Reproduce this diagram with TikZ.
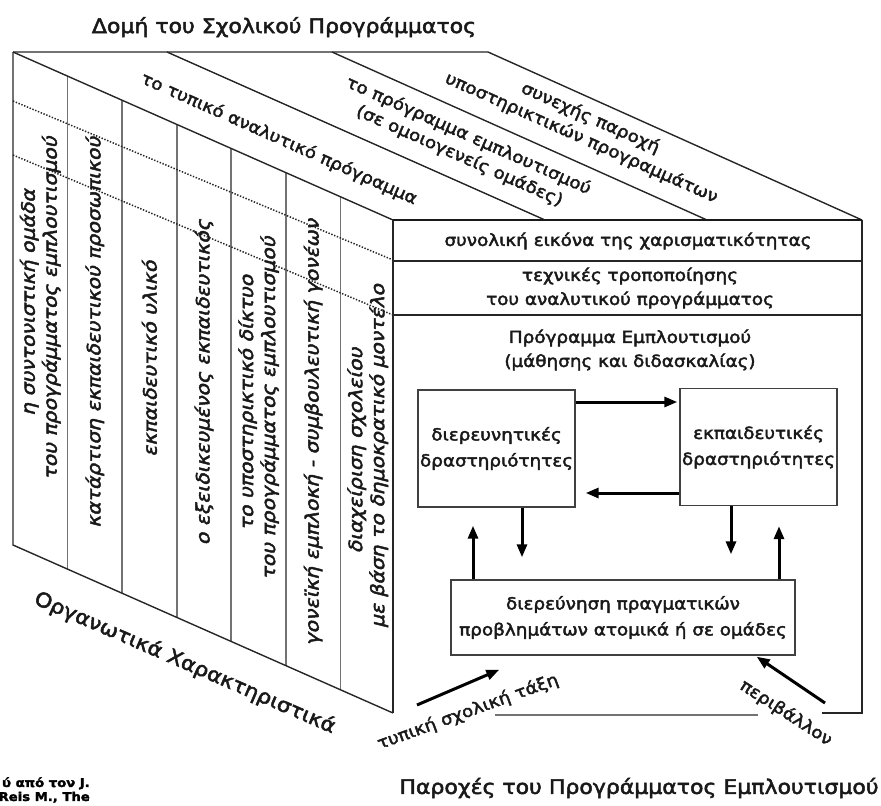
\documentclass[tikz,border=0pt]{standalone}
\usepackage{fontspec}
\setmainfont{DejaVu Sans}[FakeStretch=1.1, FakeBold=2.5]
\usetikzlibrary{arrows.meta,calc}
\begin{document}
\begin{tikzpicture}[x=1pt,y=-1pt,
  edge/.style={line width=1.4pt, draw=black!85},
  divider/.style={line width=1.6pt, draw=black!55},
  dots/.style={line width=1.5pt, dash pattern=on 1.4pt off 1.6pt, draw=black!85},
  lbl/.style={font=\fontsize{16.7}{24}\selectfont, align=center, inner sep=0pt, text=black!90},
  boxlbl/.style={font=\fontsize{16.7}{26}\selectfont, align=center, inner sep=0pt, text=black!90},
  col/.style={font=\fontsize{18.5}{22}\selectfont, align=center, inner sep=0pt, transform shape, rotate=90, xslant=0.25, text=black!90},
  toplbl/.style={font=\fontsize{16.7}{22}\selectfont, align=center, inner sep=0pt, rotate=-24, text=black!90},
  ttl/.style={font=\fontsize{20}{24}\selectfont, inner sep=0pt, text=black!90},
  box/.style={draw=black!75, line width=1.4pt, fill=white},
  arr/.style={line width=3pt, draw=black, -{Triangle[length=13pt,width=10pt]}},
]
\useasboundingbox (0,0) rectangle (881,806);

% corners of the box
\coordinate (BTL) at (13,52);
\coordinate (BTR) at (488,52);
\coordinate (FTL) at (393,220);
\coordinate (FTR) at (862,220);
\coordinate (FBR) at (862,713);
\coordinate (FBL) at (393,713);
\coordinate (BBL) at (13,545);

% left face dividers
\foreach \i in {1,...,6} {
  \pgfmathsetmacro\xx{13+54.571*\i}
  \draw[divider] (\xx,{52+0.4421*(\xx-13)}) -- (\xx,{545+0.4421*(\xx-13)});
}
% dotted lines
\draw[dots] (13,101) -- (393,260);
\draw[dots] (13,155) -- (393,315);

% outline
\draw[edge] (BTL) -- (BTR) -- (FTR);
\draw[edge] (BTL) -- (FTL);
\draw[edge] (BTL) -- (BBL) -- (FBL);
\draw[edge] (FTL) -- (FBL);
\draw[edge] (FTR) -- (FBR) -- (822,713);
\draw[divider] (495,715) -- (758,715);
\draw[edge] (167,52) -- (545,220);
\draw[edge] (332,52) -- (707,220);
\draw[line width=2.4pt, draw=black!90] (FTL) -- (FTR);
\draw[edge] (393,261) -- (862,261);
\draw[edge] (393,315) -- (862,315);

% titles
\node[ttl, anchor=base] (title) at (284,33) {Δομή του Σχολικού Προγράμματος};
\node[ttl, rotate=-23.5] (org) at (185,663) {Οργανωτικά Χαρακτηριστικά};
\node[ttl] (par) at (639,788) {Παροχές του Προγράμματος Εμπλουτισμού};
\node[font=\fontsize{12}{14}\selectfont\bfseries, anchor=east, align=right, inner sep=0pt] (src) at (90,790) {ύ από τον J.\\Reis M., The};

% top face labels
\node[toplbl] (t1) at (279,139) {το τυπικό αναλυτικό πρόγραμμα};
\node[toplbl] (t2) at (464,146) {το πρόγραμμα εμπλουτισμού\\(σε ομοιογενείς ομάδες)};
\node[toplbl] (t3) at (586,128) {συνεχής παροχή\\υποστηρικτικών προγραμμάτων};

% left face labels
\node[col] (c1) at (40.3,304) {η συντονιστική ομάδα\\του προγράμματος εμπλουτισμού};
\node[col] (c2) at (94.9,331) {κατάρτιση εκπαιδευτικού προσωπικού};
\node[col] (c3) at (149.4,357) {εκπαιδευτικό υλικό};
\node[col] (c4) at (204.0,381) {ο εξειδικευμένος εκπαιδευτικός};
\node[col] (c5) at (258.6,404) {το υποστηρικτικό δίκτυο\\του προγράμματος εμπλουτισμού};
\node[col] (c6) at (313.1,431) {γονεϊκή εμπλοκή - συμβουλευτική γονέων};
\node[col] (c7) at (367.7,452) {διαχείριση σχολείου\\με βάση το δημοκρατικό μοντέλο};

% front face labels
\node[lbl] (eik) at (628,241) {συνολική εικόνα της χαρισματικότητας};
\node[lbl] (tex) at (630,288) {τεχνικές τροποποίησης\\του αναλυτικού προγράμματος};
\node[lbl] (pe) at (630,350) {Πρόγραμμα Εμπλουτισμού\\(μάθησης και διδασκαλίας)};

% boxes
\node[box, boxlbl, minimum width=157pt, minimum height=117pt] (b1) at (496.5,448.5) {διερευνητικές\\δραστηριότητες};
\node[box, boxlbl, minimum width=157pt, minimum height=117pt] (b2) at (758.5,447) {εκπαιδευτικές\\δραστηριότητες};
\node[box, boxlbl, minimum width=344pt, minimum height=75pt] (b3) at (623,617.5) {διερεύνηση πραγματικών\\προβλημάτων ατομικά ή σε ομάδες};

% helper coordinates
\coordinate (ya) at (0,402);
\coordinate (yb) at (0,493);
\coordinate (xa) at (473,0);
\coordinate (xb) at (522,0);
\coordinate (xc) at (731,0);
\coordinate (xd) at (779,0);

\draw[arr, shorten >=2pt] (b1.east |- ya) -- (b2.west |- ya);
\draw[arr, shorten >=10pt] (b2.west |- yb) -- (b1.east |- yb);
\draw[arr, shorten >=18pt] (b3.north -| xa) -- (b1.south -| xa);
\draw[arr, shorten >=22pt] (b1.south -| xb) -- (b3.north -| xb);
\draw[arr, shorten >=25pt] (b2.south -| xc) -- (b3.north -| xc);
\draw[arr, shorten >=20pt] (b3.north -| xd) -- (b2.south -| xd);

% outside inputs
\coordinate (tykS) at (417,705);
\coordinate (tykE) at ([shift={(49pt,-14pt)}]b3.south west);
\coordinate (periS) at (825,703);
\coordinate (periE) at ([shift={(-39pt,-1pt)}]b3.south east);
\draw[arr] (tykS) -- (tykE);
\draw[arr] (periS) -- (periE);
\node[lbl, rotate=20] (tyk) at (468,712) {τυπική σχολική τάξη};
\node[lbl, rotate=-33] (peri) at (786,713) {περιβάλλον};

\end{tikzpicture}
\end{document}
